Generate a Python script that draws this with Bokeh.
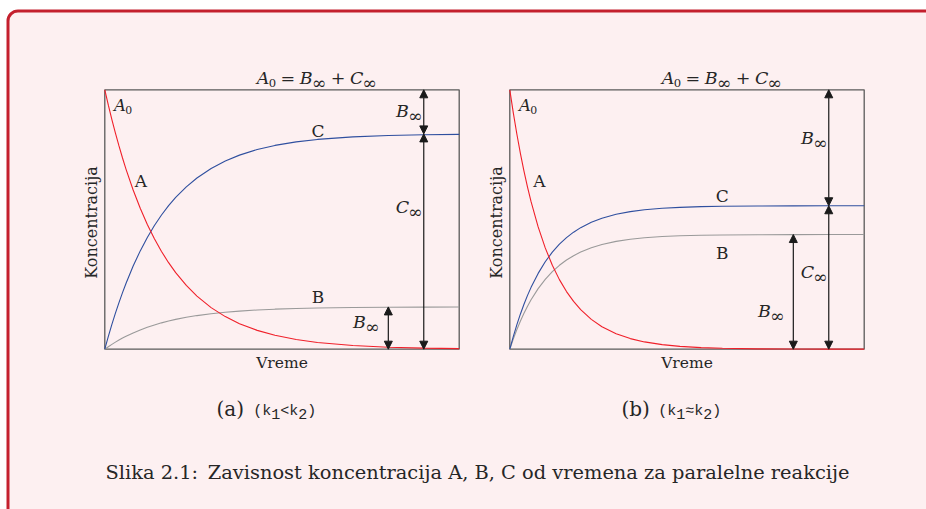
import numpy as np
from bokeh.plotting import figure
from bokeh.models import Range1d, Label, Arrow, NormalHead, BoxAnnotation
from bokeh.embed import file_html
from bokeh.resources import INLINE

# ---------------- data ----------------
TIME = [0, 0.1, 0.2, 0.3, 0.4, 0.5, 0.6, 0.8, 1.0, 1.2, 1.4, 1.6, 1.8, 2.0,
        2.3, 2.6, 3.0, 3.4, 3.8, 4.3, 4.8, 5.4, 6.0, 7.0, 8.0, 9.0, 10.0]

# panel (a): k1 < k2
A_SLOW = [1.0, 0.9408, 0.8851, 0.8328, 0.7835, 0.7371, 0.6935, 0.6139, 0.5434, 0.4810,
          0.4257, 0.3768, 0.3335, 0.2952, 0.2458, 0.2047, 0.1604, 0.1257, 0.0985, 0.0726,
          0.0535, 0.0371, 0.0257, 0.0140, 0.0076, 0.0041, 0.0022]
B_SLOW = [0.0, 0.0096, 0.0187, 0.0273, 0.0353, 0.0429, 0.0500, 0.0629, 0.0744, 0.0846,
          0.0936, 0.1016, 0.1086, 0.1149, 0.1229, 0.1296, 0.1369, 0.1425, 0.1469, 0.1512,
          0.1543, 0.1570, 0.1588, 0.1607, 0.1618, 0.1623, 0.1626]
C_SLOW = [0.0, 0.0491, 0.0954, 0.1388, 0.1797, 0.2182, 0.2544, 0.3205, 0.3790, 0.4308,
          0.4767, 0.5173, 0.5532, 0.5850, 0.6260, 0.6601, 0.6969, 0.7257, 0.7482, 0.7697,
          0.7856, 0.7992, 0.8087, 0.8184, 0.8237, 0.8266, 0.8282]

# panel (b): k1 ~ k2
A_FAST = [1.0, 0.9103, 0.8286, 0.7543, 0.6866, 0.6250, 0.5689, 0.4714, 0.3906, 0.3237,
          0.2682, 0.2222, 0.1842, 0.1526, 0.1151, 0.0868, 0.0596, 0.0409, 0.0281, 0.0176,
          0.0110, 0.0062, 0.0036, 0.0014, 0.0005, 0.0002, 0.0001]
B_FAST = [0.0, 0.0396, 0.0758, 0.1086, 0.1385, 0.1658, 0.1905, 0.2336, 0.2694, 0.2989,
          0.3235, 0.3438, 0.3606, 0.3746, 0.3911, 0.4036, 0.4157, 0.4239, 0.4296, 0.4342,
          0.4371, 0.4393, 0.4404, 0.4414, 0.4418, 0.4419, 0.4420]
C_FAST = [0.0, 0.0496, 0.0948, 0.1359, 0.1733, 0.2074, 0.2384, 0.2923, 0.3370, 0.3740,
          0.4047, 0.4301, 0.4511, 0.4686, 0.4893, 0.5050, 0.5200, 0.5304, 0.5375, 0.5433,
          0.5469, 0.5496, 0.5510, 0.5522, 0.5527, 0.5529, 0.5530]

B_INF = [0.163, 0.442]
C_INF = [0.830, 0.553]
A0 = 1.0
ARROW_T_OUTER = 9.0   # time at which the A0 = B + C arrows stand
ARROW_T_INNER = 8.0   # time at which the B_inf arrow stands
T_MAX = 10.0

PANEL_TAGS = ["(a)", "(b)"]
RATE_REL = ["<", "\u2248"]
X_LABEL = "Vreme"
Y_LABEL = "Koncentracija"
CAPTION = "Slika 2.1:\u2002Zavisnost koncentracija A, B, C od vremena za paralelne reakcije"

# ---------------- styling / geometry ----------------
W, H = 926, 509
PX = [104.3, 509.3]      # panel left edges (page px)
PY, PW, PH = 89.3, 354.4, 259.4
SERIF = "DejaVu Serif"
MONO = "Liberation Mono"
INK = "#262626"
PINK = "#fdf0f1"
FRAME_RED = "#c4202e"
RED, BLUE, GREY = "#f0202a", "#2f4f9f", "#9a9a9a"

p = figure(width=W, height=H, x_range=Range1d(0, W), y_range=Range1d(H, 0),
           output_backend="svg", toolbar_location=None, min_border=0,
           x_axis_type=None, y_axis_type=None)
p.grid.visible = False
p.outline_line_color = None
p.background_fill_color = "white"
p.border_fill_color = "white"

p.add_layout(BoxAnnotation(left=7.5, right=990, top=10.5, bottom=580,
                           fill_color=PINK, fill_alpha=1.0, line_color=FRAME_RED,
                           line_alpha=1.0, line_width=3, border_radius=10, level="underlay"))


def sx(k, t):
    return PX[k] + np.asarray(t, dtype=float) / T_MAX * PW


def sy(c):
    return PY + (1.0 - np.asarray(c, dtype=float)) * PH


def put(x, y, text, size, style="normal", font=SERIF, align="left", angle=0.0):
    # y is the vertical middle of the text line
    p.add_layout(Label(x=x, y=y, text=text, text_font=font, text_font_size=f"{size:.1f}px",
                       text_font_style=style, text_color=INK, text_align=align,
                       text_baseline="middle", angle=angle))


EMW = {"A": .68, "B": .68, "C": .70, "0": .636, "\u221e": .833, "=": .838, "+": .838}


def math(x, y, parts, size, anchor="left"):
    items, cur = [], 0.0
    for txt, role in parts:
        if role == "v":
            items.append((cur, 0.0, txt, size, "italic")); cur += EMW[txt] * size
        elif role == "s":
            s = size * (1.0 if txt == "\u221e" else 0.66)
            items.append((cur, 0.3 * size, txt, s, "normal")); cur += EMW[txt] * s
        else:
            g = 0.26 * size
            cur += g
            items.append((cur, 0.0, txt, size, "normal")); cur += EMW[txt] * size + g
    x0 = {"left": x, "center": x - cur / 2, "right": x - cur}[anchor]
    for dx, dy, txt, s, st in items:
        put(x0 + dx, y + dy, txt, s, st)


A_SERIES = [A_SLOW, A_FAST]
B_SERIES = [B_SLOW, B_FAST]
C_SERIES = [C_SLOW, C_FAST]

# label placements (page px, x + vertical middle)
LAB_A = [(140.5, 180.0), (539.0, 180.0)]
LAB_C = [(317.5, 130.0), (721.7, 195.0)]
LAB_B = [(317.5, 296.0), (721.7, 252.8)]
LAB_BINF_TOP = [(422.0, 110.0), (827.0, 137.0)]
LAB_CINF = [(422.0, 206.0), (827.0, 271.7)]
LAB_BINF_LOW = [(379.0, 321.7), (784.0, 310.0)]

for k in range(2):
    # panel frame
    p.quad(left=[float(sx(k, 0))], right=[float(sx(k, T_MAX))], top=[float(sy(A0))],
           bottom=[float(sy(0))], fill_color=None, line_color="#5a5a5a", line_width=1.3)
    # curves
    p.line(sx(k, TIME), sy(B_SERIES[k]), line_color=GREY, line_width=1.1)
    p.line(sx(k, TIME), sy(C_SERIES[k]), line_color=BLUE, line_width=1.1)
    p.line(sx(k, TIME), sy(A_SERIES[k]), line_color=RED, line_width=1.1)

    # arrows
    xo, xi = float(sx(k, ARROW_T_OUTER)), float(sx(k, ARROW_T_INNER))
    segs = [(xo, A0, C_INF[k]), (xo, C_INF[k], 0.0), (xi, B_INF[k], 0.0)]
    for xa, c1, c2 in segs:
        p.add_layout(Arrow(x_start=xa, y_start=float(sy(c1)), x_end=xa, y_end=float(sy(c2)),
                           line_color="#1a1a1a", line_width=1.2,
                           start=NormalHead(size=8, fill_color="#1a1a1a", line_color="#1a1a1a", line_width=1),
                           end=NormalHead(size=8, fill_color="#1a1a1a", line_color="#1a1a1a", line_width=1)))

    cx = float(sx(k, T_MAX / 2))
    # title  A0 = B_inf + C_inf
    math(PX[k] + 212.0, 77.5, [("A", "v"), ("0", "s"), ("=", "o"), ("B", "v"), ("\u221e", "s"),
                               ("+", "o"), ("C", "v"), ("\u221e", "s")], 17.5, "center")
    # A0 label
    math(PX[k] + 9.2, 104.7, [("A", "v"), ("0", "s")], 16.5, "left")
    # curve names
    put(*LAB_A[k], "A", 17, align="center")
    put(*LAB_C[k], "C", 17, align="center")
    put(*LAB_B[k], "B", 17, align="center")
    # arrow labels
    math(*LAB_BINF_TOP[k], [("B", "v"), ("\u221e", "s")], 17.5, "right")
    math(*LAB_CINF[k], [("C", "v"), ("\u221e", "s")], 17.5, "right")
    math(*LAB_BINF_LOW[k], [("B", "v"), ("\u221e", "s")], 17.5, "right")
    # axis names
    put(cx, 362.5, X_LABEL, 15.5, align="center")
    put(PX[k] - 13.5, float(sy(0.5)) + 3, Y_LABEL, 16, align="center", angle=np.pi / 2)
    # sub-captions
    put(PX[k] + 111.7, 408.0, PANEL_TAGS[k], 20)
    mono = 15
    adv = 0.6 * mono
    x0 = PX[k] + 148.4
    pieces = [("(k", 0.0, 0), ("1", 0.22, 2), (RATE_REL[k], 0.0, 3), ("k", 0.0, 4), ("2", 0.22, 5), (")", 0.0, 6)]
    for txt, dy, pos in pieces:
        put(x0 + pos * adv, 410.5 + dy * mono, txt, mono, font=MONO)

put(477.0, 471.5, CAPTION, 19.4, align="center")

open("out.html", "w").write(file_html(p, INLINE))
